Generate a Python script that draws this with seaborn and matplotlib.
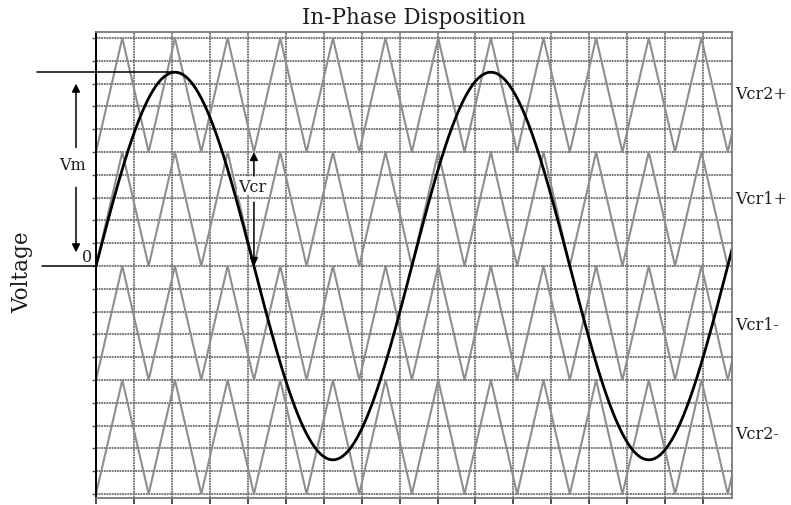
import numpy as np
import pandas as pd
import matplotlib
matplotlib.use("Agg")
import matplotlib.pyplot as plt
import matplotlib.transforms as mtransforms
import seaborn as sns

# Modulating sine and carrier parameters (x measured in grid divisions)
sine_amplitude = 1.7          # Vm, in units of one carrier height
sine_period = 8.324           # divisions per fundamental cycle
carriers_per_cycle = 6        # frequency ratio mf
carrier_names = ["Vcr2+", "Vcr1+", "Vcr1-", "Vcr2-"]
carrier_bases = [1.0, 0.0, -1.0, -2.0]
carrier_height = 1.0
label_levels = [1.51, 0.59, -0.51, -1.47]
x_max = 16.76
x_grid = list(range(0, 17))
y_grid = list(np.round(np.arange(-2.0, 2.01, 0.2), 2))

sns.set_style("white")
plt.rcParams["font.family"] = ["DejaVu Serif"]

fig = plt.figure(figsize=(7.91, 5.06), dpi=100)
W, H = 791, 506
ax = fig.add_axes([96 / W, 1 - 499 / H, (732 - 96) / W, (499 - 33) / H])

ylo, yhi = -2.035, 2.053
ax.set_xlim(0, x_max)
ax.set_ylim(ylo, yhi)

# grid
ax.set_xticks(x_grid)
ax.set_yticks(y_grid)
ax.set_xticklabels([])
ax.set_yticklabels([])
ax.grid(True, color="#6a6a6a", linewidth=1.3, linestyle=(0, (1.0, 0.45)))
ax.set_axisbelow(True)
ax.tick_params(axis="y", direction="out", length=3, width=1.0, color="#555555", left=True)
ax.tick_params(axis="x", direction="out", length=4, width=1.2, color="#333333", bottom=True)

# triangular carriers, all in phase
carrier_T = sine_period / carriers_per_cycle
n_half = int(np.ceil(x_max / (carrier_T / 2))) + 1
frames = []
for name, base in zip(carrier_names, carrier_bases):
    xs = np.arange(n_half + 1) * carrier_T / 2
    ys = np.where(np.arange(n_half + 1) % 2 == 0, base, base + carrier_height)
    frames.append(pd.DataFrame({"x": xs, "y": ys, "carrier": name}))
carriers = pd.concat(frames, ignore_index=True)
for name in carrier_names:
    sub = carriers[carriers["carrier"] == name]
    sns.lineplot(data=sub, x="x", y="y", ax=ax, color="#8e8e8e", linewidth=1.5,
                 sort=False, estimator=None, legend=False)

# modulating sine wave
t = np.linspace(0, x_max, 1200)
ref = pd.DataFrame({"x": t, "y": sine_amplitude * np.sin(2 * np.pi * t / sine_period)})
sns.lineplot(data=ref, x="x", y="y", ax=ax, color="black", linewidth=2.0,
             sort=False, estimator=None, legend=False)

ax.set_xlabel("")
ax.set_ylabel("")

# frame
for side in ["top", "right", "bottom"]:
    ax.spines[side].set_color("#7a7a7a")
    ax.spines[side].set_linewidth(1.3)
ax.spines["left"].set_color("black")
ax.spines["left"].set_linewidth(1.4)

txt_color = "#1c1c24"

# Vm dimension
peak_x = sine_period / 4
ax.plot([-1.555, peak_x], [sine_amplitude, sine_amplitude], color="black", lw=1.1, clip_on=False)
ax.plot([-1.42, 0], [0, 0], color="black", lw=1.1, clip_on=False)
arrow = dict(arrowstyle="-|>", color="black", lw=1.1, mutation_scale=12, shrinkA=0, shrinkB=0)
ax.annotate("", xy=(-0.527, 1.60), xytext=(-0.527, 1.04), arrowprops=arrow, annotation_clip=False)
ax.annotate("", xy=(-0.527, 0.12), xytext=(-0.527, 0.69), arrowprops=arrow, annotation_clip=False)
ax.text(-0.63, 0.895, "Vm", ha="center", va="center", fontsize=11.5, color=txt_color, clip_on=False)
ax.text(-0.24, 0.085, "0", ha="center", va="center", fontsize=11.5, color=txt_color, clip_on=False)

# Vcr dimension at a carrier valley
vx = 3 * carrier_T
ax.annotate("", xy=(vx, 1.0), xytext=(vx, 0.79), arrowprops=arrow)
ax.annotate("", xy=(vx, 0.0), xytext=(vx, 0.56), arrowprops=arrow)
ax.text(vx - 0.05, 0.70, "Vcr", ha="center", va="center", fontsize=11.5, color=txt_color,
        bbox=dict(facecolor="white", edgecolor="none", pad=0.5))

# carrier labels on the right
trans = mtransforms.blended_transform_factory(ax.transAxes, ax.transData)
for name, lvl in zip(carrier_names, label_levels):
    ax.text(1.005, lvl, name, transform=trans, ha="left", va="center",
            fontsize=11.5, color=txt_color)

fig.text(414 / W, 1 - 18 / H, "In-Phase Disposition", ha="center", va="center",
         fontsize=15.5, color=txt_color)
fig.text(22 / W, 1 - 272 / H, "Voltage", ha="center", va="center", rotation=90,
         fontsize=15.5, color=txt_color)

fig.savefig("out.png", dpi=100)
